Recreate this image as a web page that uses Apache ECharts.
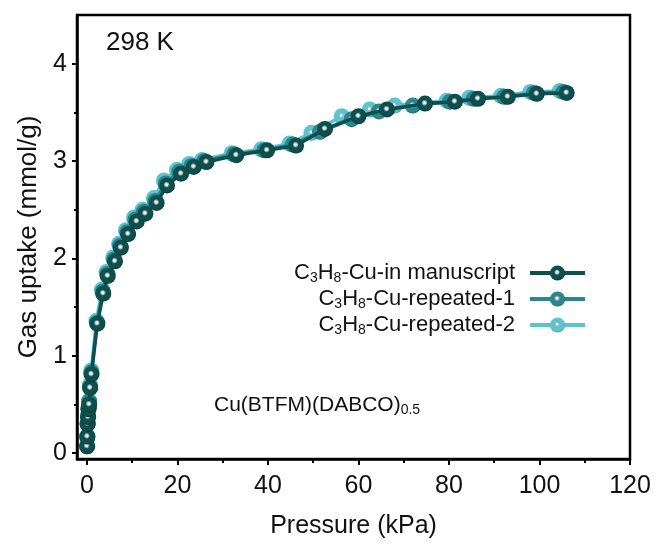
<!DOCTYPE html>
<html>
<head>
<meta charset="utf-8">
<script src="https://cdn.jsdelivr.net/npm/echarts@6/dist/echarts.min.js"></script>
<style>html,body{margin:0;padding:0;background:#fff;}#c{width:657px;height:552px;}</style>
</head>
<body>
<div id="c"></div>
<script>
// ---- data ----
var seriesNames = ['C{sub|3}H{sub|8}-Cu-in manuscript', 'C{sub|3}H{sub|8}-Cu-repeated-1', 'C{sub|3}H{sub|8}-Cu-repeated-2'];
var xTicks = [0, 20, 40, 60, 80, 100, 120];
var xMinor = [10, 30, 50, 70, 90, 110];
var yTicks = [0, 1, 2, 3, 4];
var yMinor = [0.5, 1.5, 2.5, 3.5];

var p0 = [0.03,0.08,0.15,0.25,0.35,0.5,0.7,1.0,2.3,3.6,4.6,6.2,7.5,9.1,11.0,12.9,15.4,17.7,20.8,23.6,26.4,33.0,39.8,46.2,52.6,60.0,66.3,74.7,81.3,86.4,93.0,99.4,106.0];
var q0 = [0.07,0.17,0.30,0.37,0.45,0.50,0.67,0.81,1.33,1.64,1.82,1.97,2.11,2.25,2.38,2.46,2.57,2.75,2.87,2.94,2.99,3.06,3.11,3.16,3.33,3.46,3.53,3.59,3.61,3.64,3.66,3.69,3.70];

var p1 = [0.04,0.08,0.15,0.24,0.34,0.48,0.68,0.98,2.2,3.5,4.5,6.0,7.3,8.9,10.7,12.6,15.1,17.4,20.4,23.1,25.9,32.5,39.2,45.5,51.5,58.5,64.5,72.0,80.2,85.5,92.2,98.8,105.3];
var q1 = [0.07,0.16,0.30,0.38,0.46,0.53,0.68,0.83,1.34,1.66,1.84,1.99,2.13,2.27,2.40,2.48,2.59,2.77,2.89,2.95,3.00,3.07,3.11,3.17,3.30,3.43,3.51,3.57,3.61,3.64,3.66,3.70,3.71];

var p2 = [0.03,0.07,0.14,0.22,0.32,0.46,0.65,0.95,2.1,3.3,4.3,5.8,7.1,8.6,10.4,12.3,14.8,17.0,19.9,22.6,25.4,32.0,38.5,44.8,49.6,56.3,62.5,68.0,79.5,84.5,91.5,98.0,104.5];
var q2 = [0.08,0.18,0.31,0.39,0.47,0.54,0.70,0.85,1.36,1.68,1.86,2.01,2.15,2.29,2.42,2.50,2.62,2.80,2.91,2.97,3.01,3.08,3.12,3.18,3.29,3.46,3.53,3.57,3.62,3.65,3.67,3.71,3.72];

var colors = ['#0d4f4d', '#2b8690', '#5cc4cf'];
var darkEdges = ['#073635', '#1b6a73', '#3aa9b5'];

function zip(a, b) { return a.map(function (v, i) { return [v, b[i]]; }); }
function ball(i) {
  return {
    type: 'radial', x: 0.47, y: 0.45, r: 0.55,
    colorStops: [
      { offset: 0, color: '#ffffff' },
      { offset: 0.12, color: '#e4eaea' },
      { offset: 0.22, color: '#9fb3b3' },
      { offset: 0.36, color: colors[i] },
      { offset: 0.8, color: colors[i] },
      { offset: 1, color: darkEdges[i] }
    ]
  };
}
var datas = [zip(p0, q0), zip(p1, q1), zip(p2, q2)];

var font = 'Liberation Sans, Arial, sans-serif';
var series = [0, 1, 2].map(function (i) {
  return {
    name: seriesNames[i],
    type: 'line',
    data: datas[i],
    z: 10 - i,
    symbol: 'circle',
    symbolSize: 16,
    lineStyle: { color: colors[i], width: 3.5 },
    itemStyle: { color: ball(i), borderWidth: 0 },
    emphasis: { disabled: true },
    animation: false
  };
});

var chart = echarts.init(document.getElementById('c'), null, { renderer: 'canvas' });
chart.setOption({
  animation: false,
  textStyle: { fontFamily: font },
  grid: { left: 77, right: 27, top: 15, bottom: 93, show: true, borderColor: '#000', borderWidth: 2.5, backgroundColor: 'transparent' },
  legend: {
    data: seriesNames,
    orient: 'vertical',
    right: 70,
    top: 262,
    padding: 0,
    align: 'right',
    itemWidth: 55,
    itemHeight: 19,
    itemGap: 3,
    selectedMode: false,
    lineStyle: { width: 4 },
    textStyle: {
      fontFamily: font, fontSize: 22, color: '#111', padding: [0, 10, 0, 0],
      rich: { sub: { fontFamily: font, fontSize: 14, color: '#111', padding: [10, 0, 0, 0] } }
    }
  },
  xAxis: [{
    type: 'value', min: -2.2, max: 120,
    name: 'Pressure (kPa)', nameLocation: 'middle', nameGap: 55,
    nameTextStyle: { fontFamily: font, fontSize: 25, color: '#111' },
    axisLine: { show: true, onZero: false, lineStyle: { color: '#000', width: 2.5 } },
    axisTick: { show: true, customValues: xTicks, length: 6, lineStyle: { color: '#000', width: 2 } },
    axisLabel: { customValues: xTicks, fontSize: 25, color: '#111', margin: 15, fontFamily: font },
    splitLine: { show: false }
  }, {
    type: 'value', min: -2.2, max: 120, position: 'bottom',
    axisLine: { show: false, onZero: false },
    axisTick: { show: true, customValues: xMinor, length: 4, lineStyle: { color: '#000', width: 2 } },
    axisLabel: { show: false },
    splitLine: { show: false }
  }],
  yAxis: [{
    type: 'value', min: -0.06, max: 4.5,
    name: 'Gas uptake (mmol/g)', nameLocation: 'middle', nameGap: 34,
    nameTextStyle: { fontFamily: font, fontSize: 26, color: '#111' },
    axisLine: { show: true, onZero: false, lineStyle: { color: '#000', width: 2.5 } },
    axisTick: { show: true, customValues: yTicks, length: 5, lineStyle: { color: '#000', width: 2 } },
    axisLabel: { customValues: yTicks, fontSize: 25, color: '#111', margin: 10, fontFamily: font },
    splitLine: { show: false }
  }, {
    type: 'value', min: -0.06, max: 4.5, position: 'left',
    axisLine: { show: false, onZero: false },
    axisTick: { show: true, customValues: yMinor, length: 3, lineStyle: { color: '#000', width: 2 } },
    axisLabel: { show: false },
    splitLine: { show: false }
  }],
  graphic: [
    { type: 'text', left: 106, top: 30, style: { text: '298 K', font: '26px ' + font, fill: '#111' } },
    { type: 'text', left: 214, top: 395, style: {
      text: 'Cu(BTFM)(DABCO){sub|0.5}', font: '21px ' + font, fill: '#111',
      rich: { sub: { fontSize: 14, fontFamily: font, fill: '#111', padding: [10, 0, 0, 0] } }
    } }
  ],
  series: series
});
</script>
</body>
</html>
